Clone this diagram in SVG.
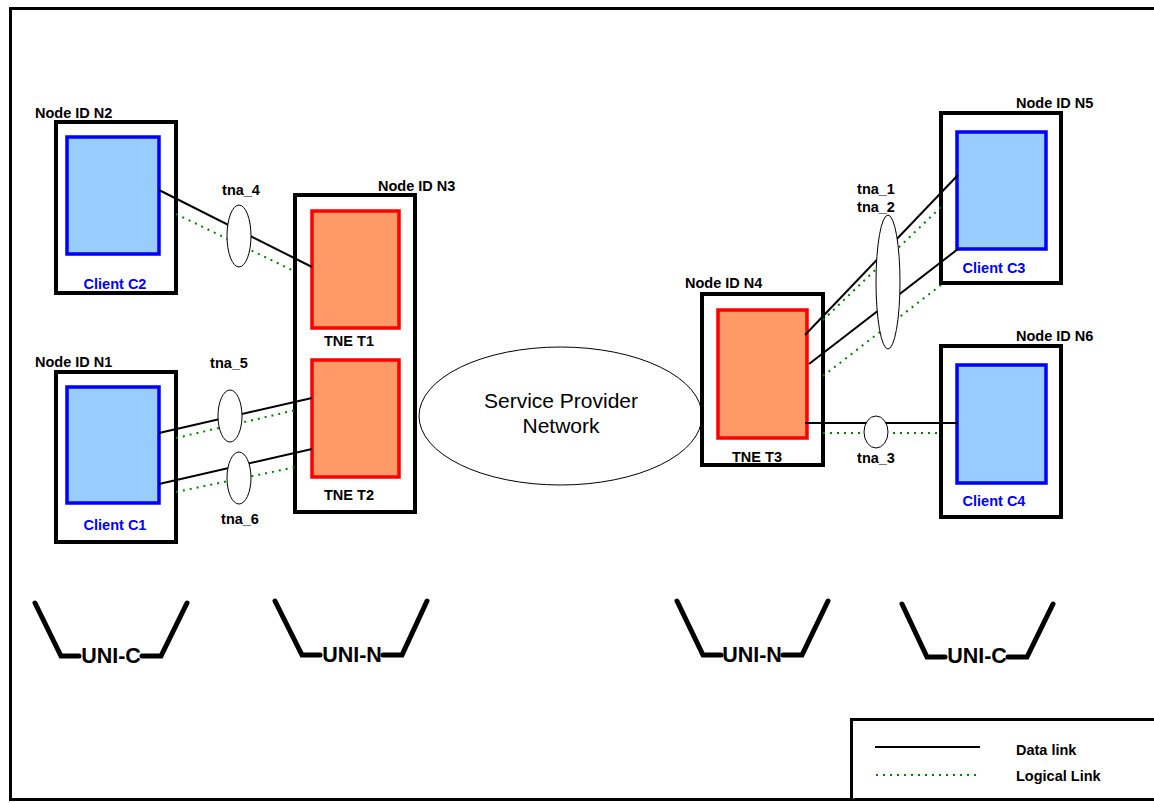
<svg xmlns="http://www.w3.org/2000/svg" width="1154" height="803" viewBox="0 0 1154 803">
<style>
.lbl{font-family:"Liberation Sans",Arial,sans-serif;font-weight:bold;font-size:14.5px;fill:#000}
.cl{font-family:"Liberation Sans",Arial,sans-serif;font-weight:bold;font-size:14.5px;fill:#0000ff}
.uni{font-family:"Liberation Sans",Arial,sans-serif;font-weight:bold;font-size:21.5px;fill:#000}
.spn{font-family:"Liberation Sans",Arial,sans-serif;font-size:21px;fill:#000}
.outer{fill:#fff;stroke:#000;stroke-width:4}
.client{fill:#99ccff;stroke:#0000ff;stroke-width:3.5}
.tne{fill:#ff9966;stroke:#ff0000;stroke-width:3.5}
.data{stroke:#000;stroke-width:2;fill:none}
.logic{stroke:#008000;stroke-width:2;stroke-dasharray:2 5;fill:none}
.tna{fill:#fff;stroke:#000;stroke-width:1}
.br{fill:none;stroke:#000;stroke-width:5;stroke-linecap:round;stroke-linejoin:miter}
</style>
<rect x="0" y="0" width="1154" height="803" fill="#fff"/>
<path d="M1156 8.5 H10.5 V799.5 H1156" fill="none" stroke="#000" stroke-width="3"/>

<g id="N2">
<rect class="outer" x="56" y="122" width="120" height="171"/>
<rect class="client" x="67" y="137" width="92" height="117"/>
<text class="lbl" x="35" y="118">Node ID N2</text>
<text class="cl" x="115" y="289" text-anchor="middle">Client C2</text>
</g>
<g id="N1">
<rect class="outer" x="56" y="372" width="120" height="170"/>
<rect class="client" x="67" y="387" width="92" height="116"/>
<text class="lbl" x="35" y="367">Node ID N1</text>
<text class="cl" x="115" y="530" text-anchor="middle">Client C1</text>
</g>
<g id="N3">
<rect class="outer" x="295" y="195" width="120" height="317"/>
<rect class="tne" x="312" y="211" width="87" height="117"/>
<rect class="tne" x="312" y="360" width="87" height="117"/>
<text class="lbl" x="378" y="191">Node ID N3</text>
<text class="lbl" x="349" y="346" text-anchor="middle">TNE T1</text>
<text class="lbl" x="349" y="500" text-anchor="middle">TNE T2</text>
</g>
<g id="SPN">
<ellipse cx="560.5" cy="416" rx="141.5" ry="69" fill="#fff" stroke="#000" stroke-width="1"/>
<text class="spn" x="561" y="408" text-anchor="middle">Service Provider</text>
<text class="spn" x="561" y="433" text-anchor="middle">Network</text>
</g>
<g id="N4">
<rect class="outer" x="702" y="294" width="121" height="171"/>
<rect class="tne" x="718" y="310" width="89" height="128"/>
<text class="lbl" x="685" y="288">Node ID N4</text>
<text class="lbl" x="757" y="462" text-anchor="middle">TNE T3</text>
</g>
<g id="N5">
<rect class="outer" x="941" y="113" width="120" height="170"/>
<rect class="client" x="957" y="132" width="89" height="117"/>
<text class="lbl" x="1016" y="108">Node ID N5</text>
<text class="cl" x="994" y="273" text-anchor="middle">Client C3</text>
</g>
<g id="N6">
<rect class="outer" x="941" y="346" width="120" height="171"/>
<rect class="client" x="957" y="365" width="89" height="118"/>
<text class="lbl" x="1016" y="341">Node ID N6</text>
<text class="cl" x="994" y="506" text-anchor="middle">Client C4</text>
</g>

<g id="connectors">
<line class="data" x1="159" y1="190" x2="312" y2="267"/>
<line class="logic" x1="176" y1="214" x2="296" y2="272"/>
<line class="data" x1="159" y1="433" x2="312" y2="398"/>
<line class="logic" x1="176" y1="438" x2="296" y2="410"/>
<line class="data" x1="159" y1="484" x2="312" y2="449"/>
<line class="logic" x1="176" y1="492" x2="296" y2="467"/>
<line class="data" x1="805" y1="335" x2="958" y2="175"/>
<line class="logic" x1="823" y1="320" x2="941" y2="207"/>
<line class="data" x1="809" y1="364" x2="958" y2="249"/>
<line class="logic" x1="823" y1="376" x2="941" y2="285"/>
<line class="data" x1="805" y1="423" x2="958" y2="423"/>
<line class="logic" x1="823" y1="433" x2="941" y2="433"/>
</g>

<g id="tna_4">
<ellipse class="tna" cx="239" cy="236" rx="12" ry="31"/>
<text class="lbl" x="241" y="195" text-anchor="middle">tna_4</text>
</g>
<g id="tna_5">
<ellipse class="tna" cx="230" cy="416" rx="12" ry="26"/>
<text class="lbl" x="229" y="368" text-anchor="middle">tna_5</text>
</g>
<g id="tna_6">
<ellipse class="tna" cx="239" cy="478" rx="12" ry="26"/>
<text class="lbl" x="240" y="524" text-anchor="middle">tna_6</text>
</g>
<g id="tna_1_2">
<ellipse class="tna" cx="888" cy="282" rx="12" ry="67"/>
<text class="lbl" x="876" y="194" text-anchor="middle">tna_1</text>
<text class="lbl" x="876" y="212" text-anchor="middle">tna_2</text>
</g>
<g id="tna_3">
<ellipse class="tna" cx="876" cy="432" rx="12" ry="16"/>
<text class="lbl" x="876" y="463" text-anchor="middle">tna_3</text>
</g>

<g id="uni-c-left">
<polyline class="br" points="35,603 61,656 79,656"/>
<polyline class="br" points="142,656 161,656 187,603"/>
<text class="uni" x="111" y="663" text-anchor="middle">UNI-C</text>
</g>
<g id="uni-n-left">
<polyline class="br" points="275,601 302,655 320,655"/>
<polyline class="br" points="383,655 402,655 427,601"/>
<text class="uni" x="352" y="662" text-anchor="middle">UNI-N</text>
</g>
<g id="uni-n-right">
<polyline class="br" points="677,601 703,655 721,655"/>
<polyline class="br" points="783,655 802,655 828,601"/>
<text class="uni" x="752" y="662" text-anchor="middle">UNI-N</text>
</g>
<g id="uni-c-right">
<polyline class="br" points="902,604 927,657 945,657"/>
<polyline class="br" points="1008,657 1027,657 1053,604"/>
<text class="uni" x="977" y="663" text-anchor="middle">UNI-C</text>
</g>

<g id="legend">
<path d="M1156 719.5 H851.5 V799" fill="#fff" stroke="#000" stroke-width="3"/>
<line x1="875" y1="747" x2="980" y2="747" stroke="#000" stroke-width="2"/>
<line class="logic" x1="876" y1="775" x2="977" y2="775"/>
<text class="lbl" x="1016" y="755">Data link</text>
<text class="lbl" x="1016" y="781">Logical Link</text>
</g>
</svg>
